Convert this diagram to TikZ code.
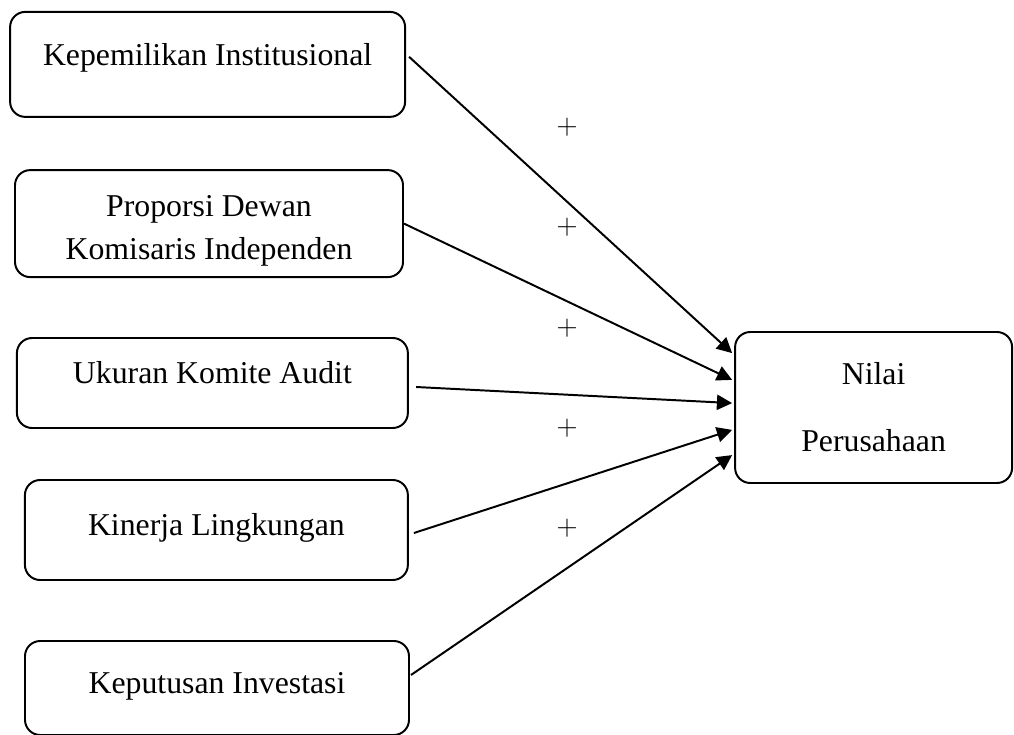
\documentclass[tikz,border=0pt]{standalone}
\usepackage{fontspec}
\setmainfont{Liberation Serif}
\usetikzlibrary{arrows.meta}

\tikzset{
	box/.style={draw,rounded corners=0.38cm,line width=1.4pt,align=center},
	oneline/.style={text height=0.56cm,text depth=#1},
	link/.style={line width=1.4pt,-{Triangle[length=0.38cm,width=0.38cm]}}
}

\begin{document}
\begin{tikzpicture}[font=\fontsize{22.6pt}{30.6pt}\selectfont]
	\useasboundingbox (0,0) rectangle (25.35,18.35);

	%variables
	\node[box,oneline=0.52cm,minimum width=9.875cm,minimum height=2.625cm] (inst) at (5.19,16.74) {Kepemilikan Institusional};
	\node[box,minimum width=9.7cm,minimum height=2.675cm] (dewan) at (5.225,12.76) {\rule{0pt}{0.89cm}Proporsi Dewan\\Komisaris Independen};
	\node[box,oneline=0.54cm,minimum width=9.775cm,minimum height=2.25cm] (audit) at (5.31,8.775) {Ukuran Komite Audit};
	\node[box,oneline=0.29cm,minimum width=9.575cm,minimum height=2.5cm] (kinerja) at (5.41,5.1) {Kinerja Lingkungan};
	\node[box,oneline=0.29cm,minimum width=9.6cm,minimum height=2.35cm] (invest) at (5.425,1.15) {Keputusan Investasi};
	\node[box,minimum width=6.925cm,minimum height=3.775cm] (nilai) at (21.84,8.1625) {Nilai\\[0.6cm]Perusahaan};

	%arrows
	\draw[link] ([xshift=0.075cm,yshift=0.19cm]inst.east) -- ([xshift=-0.05cm,yshift=1.36cm]nilai.west);
	\draw[link] (dewan.east) -- ([xshift=-0.05cm,yshift=0.69cm]nilai.west);
	\draw[link] ([xshift=0.18cm,yshift=-0.1cm]audit.east) -- ([xshift=-0.05cm,yshift=0.11cm]nilai.west);
	\draw[link] ([xshift=0.125cm,yshift=-0.075cm]kinerja.east) -- ([xshift=-0.05cm,yshift=-0.56cm]nilai.west);
	\draw[link] ([xshift=0.025cm,yshift=0.325cm]invest.east) -- ([xshift=-0.05cm,yshift=-1.19cm]nilai.west);

	%signs
	\node (p1) at (14.175,15.175) {$+$};
	\node (p2) at (14.175,12.675) {$+$};
	\node (p3) at (14.175,10.15) {$+$};
	\node (p4) at (14.175,7.65) {$+$};
	\node (p5) at (14.175,5.15) {$+$};
\end{tikzpicture}
\end{document}
